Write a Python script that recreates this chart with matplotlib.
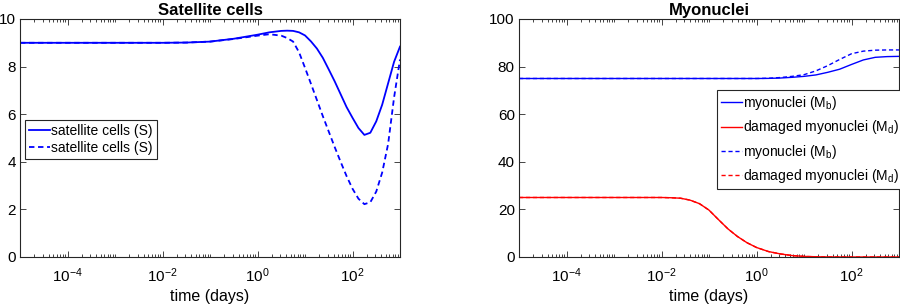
import numpy as np
import matplotlib
matplotlib.use("Agg")
import matplotlib.pyplot as plt
from matplotlib.ticker import FixedLocator, LogLocator, FuncFormatter, NullFormatter

plt.rcParams['font.family'] = ['Liberation Sans', 'DejaVu Sans']
plt.rcParams['mathtext.fontset'] = 'custom'
plt.rcParams['mathtext.rm'] = 'Liberation Sans'
plt.rcParams['mathtext.it'] = 'Liberation Sans:italic'
plt.rcParams['mathtext.default'] = 'regular'

# ---- data (log10 of time in days) ----
sat_logt = [-5, -2, -1.5, -1, -0.5, 0, 0.25, 0.5, 0.625, 0.75, 0.875, 1.0, 1.125, 1.25, 1.375,
            1.5, 1.625, 1.75, 1.875, 2.0, 2.125, 2.25, 2.375, 2.5, 2.625, 2.75, 2.875, 3.0]
sat_solid = [9.0, 9.0, 9.01, 9.05, 9.17, 9.34, 9.44, 9.50, 9.51, 9.50, 9.44, 9.31, 9.06, 8.76, 8.37,
             7.88, 7.38, 6.84, 6.3, 5.85, 5.42, 5.13, 5.22, 5.7, 6.4, 7.3, 8.2, 8.84]
sat_dashed = [9.0, 9.0, 9.01, 9.05, 9.16, 9.3, 9.36, 9.3, 9.2, 9.05, 8.6, 7.95, 7.28, 6.6, 5.92,
              5.27, 4.62, 4.0, 3.4, 2.87, 2.45, 2.22, 2.3, 2.75, 3.55, 4.75, 6.7, 8.3]

myo_logt = [-5, -2, -1.8, -1.6, -1.4, -1.2, -1.0, -0.8, -0.6, -0.4, -0.2, 0, 0.25, 0.5,
            0.75, 1.0, 1.25, 1.5, 1.75, 2.0, 2.25, 2.5, 2.75, 3.0]
mb_solid = [75, 75, 75, 75, 75, 75, 75, 75, 75, 75, 75, 75, 75.05, 75.2,
            75.5, 75.9, 76.5, 77.6, 78.9, 80.9, 82.8, 83.9, 84.2, 84.3]
mb_dashed = [75, 75, 75, 75, 75, 75, 75, 75, 75, 75, 75, 75, 75.1, 75.4,
             75.9, 76.6, 78.2, 80.4, 83.0, 85.4, 86.5, 86.9, 87.0, 87.0]
md_solid = [25, 25, 24.9, 24.7, 23.9, 22.4, 19.7, 15.7, 11.8, 8.6, 6.0, 4.0, 2.3, 1.3,
            0.6, 0.25, 0.1, 0.03, 0, 0, 0, 0, 0, 0]
md_dashed = md_solid

xticks_major = [1e-4, 1e-2, 1e0, 1e2]

blue = '#0000ff'
red = '#ff0000'

fig = plt.figure(figsize=(9, 3.07), dpi=100)
ax1 = fig.add_axes([20/900, 50/307, 380/900, 238/307])
ax2 = fig.add_axes([519/900, 50/307, 380/900, 238/307])

t_sat = 10.0 ** np.array(sat_logt)
t_myo = 10.0 ** np.array(myo_logt)

ax1.plot(t_sat, sat_solid, color=blue, lw=1.3, label='satellite cells (S)')
ax1.plot(t_sat, sat_dashed, color=blue, lw=1.3, ls=(0, (3, 2)), label='satellite cells (S)')
ax1.set_ylim(0, 10)
ax1.set_yticks([0, 2, 4, 6, 8, 10])
ax1.set_title('Satellite cells', fontsize=12, fontweight='bold', pad=3)

ax2.plot(t_myo, mb_solid, color=blue, lw=1.0, label='myonuclei (M$_b$)')
ax2.plot(t_myo, md_solid, color=red, lw=1.0, label='damaged myonuclei (M$_d$)')
ax2.plot(t_myo, mb_dashed, color=blue, lw=1.0, ls=(0, (3, 2)), label='myonuclei (M$_b$)')
ax2.plot(t_myo, md_dashed, color=red, lw=1.0, ls=(0, (3, 2)), label='damaged myonuclei (M$_d$)')
ax2.set_ylim(0, 100)
ax2.set_yticks([0, 20, 40, 60, 80, 100])
ax2.set_title('Myonuclei', fontsize=12, fontweight='bold', pad=3)

def fmt(v, pos):
    e = int(round(np.log10(v)))
    return r'$10^{%d}$' % e

for ax in (ax1, ax2):
    ax.set_xscale('log')
    ax.set_xlim(1e-5, 1e3)
    ax.xaxis.set_major_locator(FixedLocator(xticks_major))
    ax.xaxis.set_major_formatter(FuncFormatter(fmt))
    ax.xaxis.set_minor_locator(LogLocator(base=10, subs=np.arange(1, 10), numticks=50))
    ax.xaxis.set_minor_formatter(NullFormatter())
    ax.tick_params(which='both', direction='in', top=True, right=True, labelsize=11,
                   width=0.6, colors='#262626', labelcolor='black')
    ax.tick_params(which='major', length=4)
    ax.tick_params(which='minor', length=2)
    ax.tick_params(axis='x', pad=7)
    ax.tick_params(axis='y', pad=3)
    ax.set_xlabel('time (days)', fontsize=11.5, labelpad=3)
    for s in ax.spines.values():
        s.set_linewidth(0.8)
        s.set_color('#262626')

leg1 = ax1.legend(loc='upper left', bbox_to_anchor=(5/380, 137/238), fontsize=10,
                  frameon=True, fancybox=False, edgecolor='#262626', framealpha=1,
                  handlelength=1.5, handletextpad=0.1, borderpad=0.3, labelspacing=0.2,
                  borderaxespad=0)
leg1.get_frame().set_linewidth(0.8)
leg2 = ax2.legend(loc='upper left', bbox_to_anchor=(198/380, 167/238), fontsize=10,
                  frameon=True, fancybox=False, edgecolor='#262626', framealpha=1,
                  handlelength=1.5, handletextpad=0.1, borderpad=0.3, labelspacing=0.45,
                  borderaxespad=0)
leg2.get_frame().set_linewidth(0.8)

fig.savefig('out.png', dpi=100)
